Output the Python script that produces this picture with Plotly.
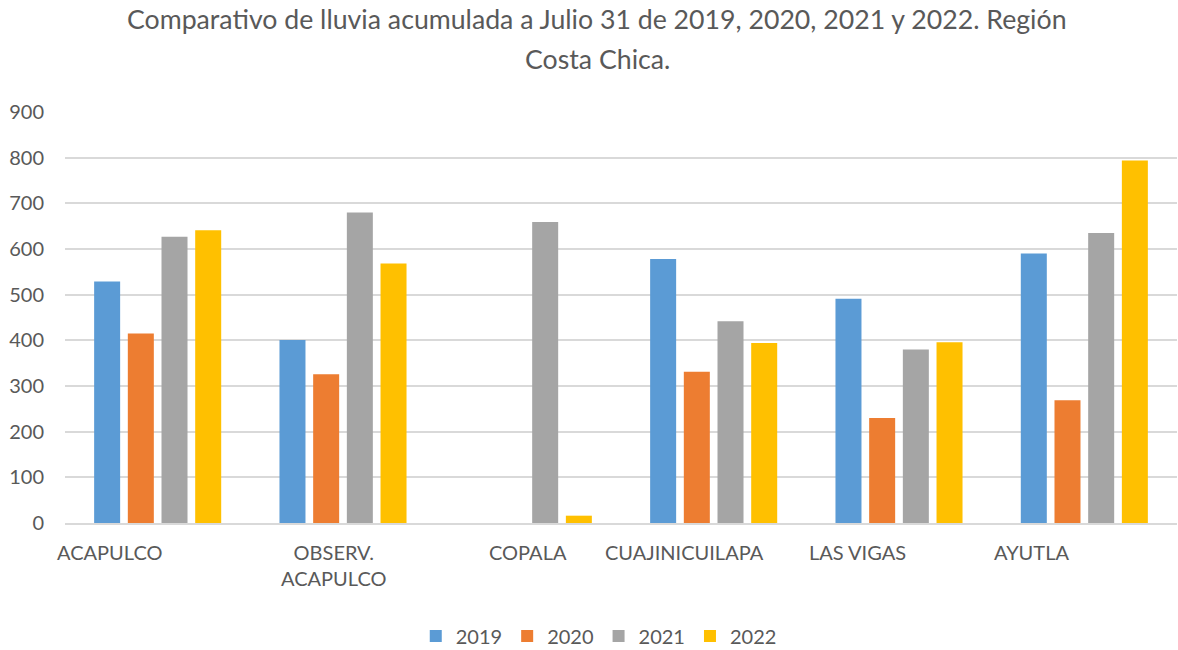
import plotly.graph_objects as go

categories = ["ACAPULCO", "OBSERV.<br>ACAPULCO", "COPALA", "CUAJINICUILAPA", "LAS VIGAS", "AYUTLA"]
series_names = ["2019", "2020", "2021", "2022"]
v2019 = [529, 401, None, 578, 491, 590]
v2020 = [415, 326, None, 331, 230, 269]
v2021 = [627, 680, 659, 442, 380, 635]
v2022 = [641, 568, 16, 394, 396, 794]
y_ticks = [0, 100, 200, 300, 400, 500, 600, 700, 800, 900]

title_line1 = "Comparativo de lluvia acumulada a Julio 31 de 2019, 2020, 2021 y 2022. Región"
title_line2 = "Costa Chica."

colors = ["#5B9BD5", "#ED7D31", "#A5A5A5", "#FFC000"]
label_shift = [-48, -10, 0, -29, -42, -53]

FONT = "Lato"
GREY = "#595959"

x_idx = list(range(len(categories)))
fig = go.Figure()
for name, vals, col in zip(series_names, [v2019, v2020, v2021, v2022], colors):
    fig.add_trace(go.Bar(x=x_idx, y=vals, name=name, marker=dict(color=col, line=dict(width=0))))

annotations = []
for i, (cat, sh) in enumerate(zip(categories, label_shift)):
    annotations.append(dict(x=i, y=0, xref="x", yref="y", text=cat, showarrow=False,
                            xanchor="center", yanchor="top", yshift=-15, xshift=sh,
                            font=dict(family=FONT, size=20, color=GREY)))
annotations.append(dict(x=0.4785, y=(523 - 19) / 411, xref="paper", yref="paper", text=title_line1,
                        showarrow=False, xanchor="center", yanchor="middle",
                        font=dict(family=FONT, size=26.7, color=GREY)))
annotations.append(dict(x=0.4785, y=(523 - 59) / 411, xref="paper", yref="paper", text=title_line2,
                        showarrow=False, xanchor="center", yanchor="middle",
                        font=dict(family=FONT, size=26.7, color=GREY)))

fig.update_layout(
    width=1178, height=650,
    margin=dict(l=65, r=1, t=112, b=127, autoexpand=False),
    paper_bgcolor="white", plot_bgcolor="white",
    barmode="group", bargap=0.273, bargroupgap=0.228,
    font=dict(family=FONT, size=20, color=GREY),
    showlegend=True,
    legend=dict(orientation="h", x=0.480, xanchor="center", y=-0.275, yanchor="middle",
                font=dict(family=FONT, size=20, color=GREY), traceorder="normal"),
    annotations=annotations,
    xaxis=dict(range=[-0.5, 5.5], showticklabels=False, showgrid=False, zeroline=False,
               showline=True, linecolor="#D9D9D9", linewidth=1.5, ticks=""),
    yaxis=dict(range=[0, 900], tickvals=y_ticks, showgrid=True, gridcolor="#D9D9D9", gridwidth=1.5,
               zeroline=False, showline=False, ticks="", ticklabelstandoff=20,
               tickfont=dict(family=FONT, size=20, color=GREY)),
)

fig.write_html("out.html", config={"displayModeBar": False},
               post_script="document.body.style.margin='0';document.body.style.padding='0';")
